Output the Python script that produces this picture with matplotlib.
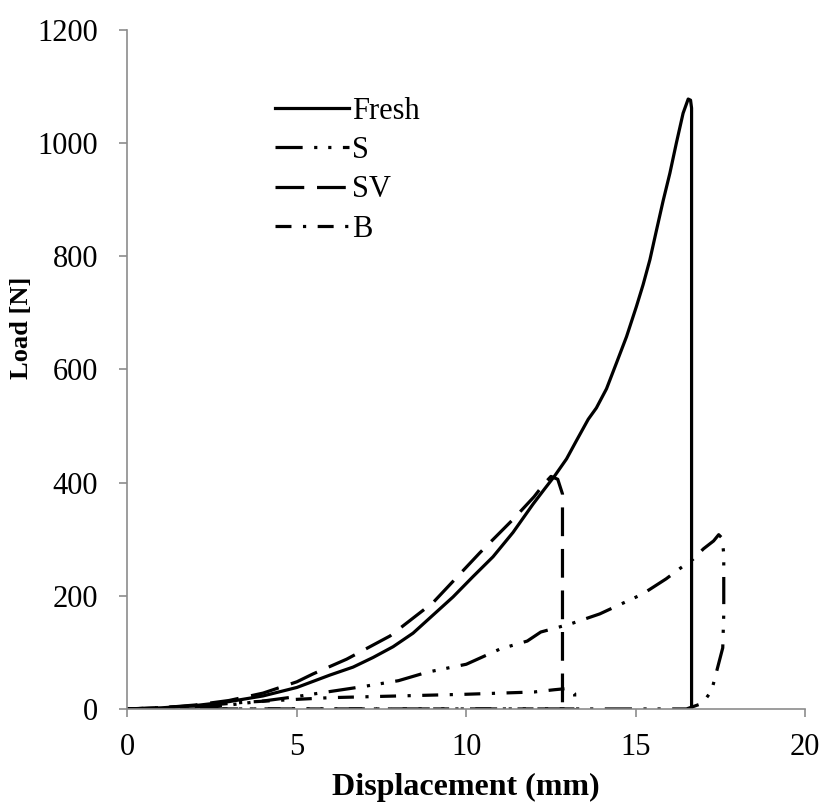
import numpy as np
from matplotlib import pyplot as plt

# Load-displacement data
fresh_x = [0, 1, 2, 3, 4, 5, 5.98, 6.66, 7.25, 7.84, 8.43, 9.02, 9.61, 10.2, 10.79,
           11.38, 11.97, 12.3, 12.61, 12.96, 13.25, 13.6, 13.84, 14.14, 14.43,
           14.73, 15.02, 15.22, 15.42, 15.61, 15.81, 16.01, 16.2, 16.4, 16.55,
           16.62, 16.65, 16.65]
fresh_y = [0, 2, 6, 13, 23, 38, 60, 74, 91, 110, 134, 166, 198, 234, 269,
           312, 362, 388, 412, 442, 474, 512, 532, 566, 611,
           658, 711, 750, 794, 845, 898, 947, 1000, 1053, 1078,
           1076, 1062, 0]

s_x = [0, 2, 3, 4, 5, 6, 7, 8, 8.85, 10.0, 11.0, 11.8, 12.2, 13.06, 13.94, 15.2,
       15.9, 16.3, 16.7, 17.0, 17.3, 17.45, 17.55, 17.6, 17.6, 17.57, 17.47, 17.24,
       16.97, 16.5, 0]
s_y = [0, 3, 7, 14, 22, 31, 40, 50, 65, 79, 106, 120, 136, 150, 168, 203,
       230, 248, 265, 283, 297, 308, 302, 274, 168, 108, 85, 32,
       10, 0, 0]

sv_x = [0, 1, 2, 3, 4, 5, 5.48, 6.47, 7.75, 9.02, 10.4, 11.38, 12.0, 12.3, 12.5,
        12.7, 12.84, 12.84]
sv_y = [0, 2, 7, 15, 28, 48, 62, 88, 129, 188, 276, 335, 375, 398, 411, 406, 380, 0]

b_x = [0, 2, 3.5, 5, 6, 8, 10, 12, 12.6, 12.95, 13.1, 13.2, 13.2, 0]
b_y = [0, 5, 12, 17, 20, 23, 26, 30, 34, 36, 33, 27, 0, 0]

labels = ['Fresh', 'S', 'SV', 'B']

plt.rcParams['font.family'] = ['Liberation Serif', 'DejaVu Serif']

fig = plt.figure(figsize=(8.19, 8.05), dpi=100, facecolor='white')
ax = fig.add_axes([0.1556, 0.1193, 0.8274, 0.8434])

lw = 2.3
ax.plot(fresh_x, fresh_y, color='black', lw=lw, ls='-', label=labels[0])
ax.plot(s_x, s_y, color='black', lw=lw, ls=(0, (8.5, 3.6, 1, 3.4, 1, 3.6)),
        label=labels[1])
ax.plot(sv_x, sv_y, color='black', lw=lw, ls=(0, (9, 4)), label=labels[2])
ax.plot(b_x, b_y, color='black', lw=lw, ls=(0, (5, 3.6, 1, 3.6)), label=labels[3])

ax.set_xlim(0, 20)
ax.set_ylim(0, 1200)
ax.set_xticks(np.arange(0, 21, 5))
ax.set_yticks(np.arange(0, 1201, 200))

for side in ['top', 'right']:
    ax.spines[side].set_visible(False)
for side in ['left', 'bottom']:
    ax.spines[side].set_color('#8c8c8c')
    ax.spines[side].set_linewidth(1.2)
ax.tick_params(direction='out', length=6, width=1.2, color='#8c8c8c', labelsize=22)
ax.tick_params(axis='y', pad=15)
ax.tick_params(axis='x', pad=11)

ax.set_xlabel('Displacement (mm)', fontsize=23, fontweight='bold', labelpad=8)
ax.set_ylabel('Load [N]', fontsize=19, fontweight='bold')
ax.yaxis.set_label_coords(-0.139, 0.561)

ax.legend(loc='upper left', bbox_to_anchor=(0.2, 0.92), frameon=False,
          fontsize=22, handlelength=2.4, handletextpad=0.1, labelspacing=0.34,
          borderaxespad=0)

plt.savefig('out.png', dpi=100)
